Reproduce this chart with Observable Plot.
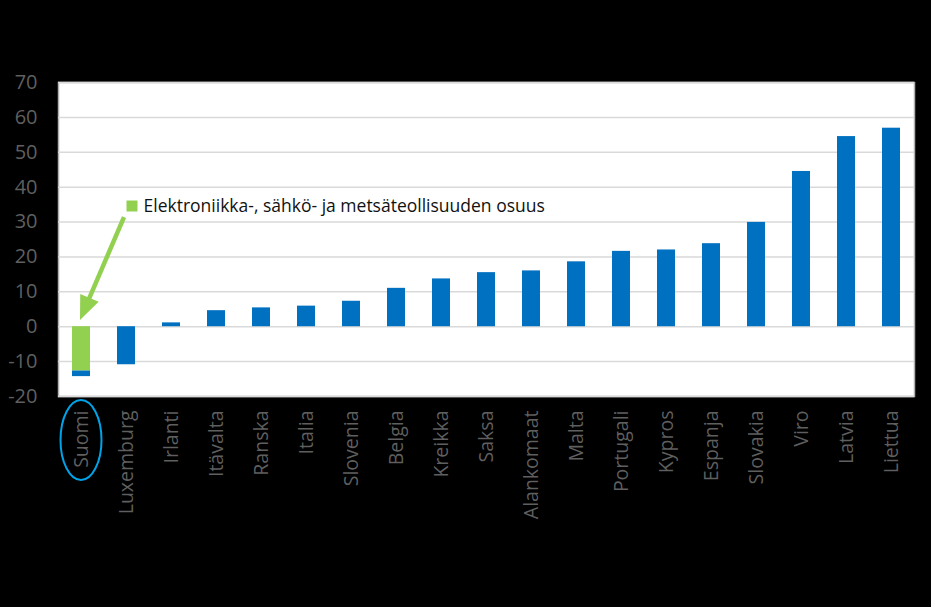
<!DOCTYPE html>
<html>
<head>
<meta charset="utf-8">
<script src="https://cdn.jsdelivr.net/npm/d3@7"></script>
<script src="https://cdn.jsdelivr.net/npm/@observablehq/plot@0.6"></script>
<style>
  html, body { margin: 0; padding: 0; background: #000; }
  #chart svg { display: block; }
</style>
</head>
<body>
<div id="chart"></div>
<script>
const countries = ["Suomi","Luxemburg","Irlanti","Itävalta","Ranska","Italia","Slovenia","Belgia","Kreikka","Saksa","Alankomaat","Malta","Portugali","Kypros","Espanja","Slovakia","Viro","Latvia","Liettua"];
// total change (blue part = total minus the industries' share)
const restValues = [-1.6, -10.9, 1.1, 4.6, 5.4, 5.9, 7.3, 11.0, 13.7, 15.5, 16.0, 18.6, 21.6, 22.0, 23.8, 29.9, 44.5, 54.5, 56.9];
// share of electronics, electrical and forest industries (only Suomi)
const shareValues = [-12.7, 0, 0, 0, 0, 0, 0, 0, 0, 0, 0, 0, 0, 0, 0, 0, 0, 0, 0];
const yTicks = [-20, -10, 0, 10, 20, 30, 40, 50, 60, 70];
const legendLabel = "Elektroniikka-, sähkö- ja metsäteollisuuden osuus";
const parts = ["share", "rest"];
const partColors = ["#92d050", "#0070c0"];
// annotation anchor points in data coordinates
const arrowFrom = {x: "Luxemburg", y: 31.3};
const arrowTo = {x: "Suomi", y: 1.8};
const legendAt = {x: "Luxemburg", y: 34.6};

const rows = [];
countries.forEach((c, i) => {
  if (shareValues[i] !== 0) rows.push({country: c, part: "share", value: shareValues[i]});
  rows.push({country: c, part: "rest", value: restValues[i]});
});

const plot = Plot.plot({
  width: 931,
  height: 607,
  marginLeft: 58,
  marginRight: 17,
  marginTop: 82,
  marginBottom: 211,
  style: {background: "#000", color: "#5f5f5f", fontFamily: "'Open Sans', sans-serif"},
  x: {domain: countries, paddingInner: 0.6, paddingOuter: 0.3, label: null},
  y: {domain: [-20, 70], ticks: yTicks, label: null},
  color: {domain: parts, range: partColors},
  marks: [
    Plot.frame({fill: "white", stroke: "#b0b0b0", strokeWidth: 1.5}),
    Plot.gridY(yTicks, {stroke: "#d9d9d9", strokeOpacity: 1, strokeWidth: 1.5}),
    Plot.barY(rows, Plot.stackY({x: "country", y: "value", fill: "part", order: null})),
    Plot.axisY(yTicks, {tickSize: 0, tickPadding: 21, fontSize: 20, fill: "#5f5f5f", tickFormat: d => String(d)}),
    Plot.axisX({tickSize: 0, tickPadding: 14, tickRotate: -90, fontSize: 19.5, fill: "#5f5f5f"}),
    Plot.dot([legendAt], {x: "x", y: "y", symbol: "square", r: 6.2, fill: "#92d050", dx: 5.5}),
    Plot.text([legendAt], {x: "x", y: "y", text: () => legendLabel, textAnchor: "start", dx: 17, fontSize: 17.5, fill: "#111", fontFamily: "'Open Sans', sans-serif"})
  ]
});

const xs = plot.scale("x");
const ys = plot.scale("y");
const bw = xs.bandwidth;
const svg = d3.select(plot);

// annotation arrow (filled head), positioned with the plot's own scales
const x1 = xs.apply(arrowFrom.x) + bw / 2 - 2, y1 = ys.apply(arrowFrom.y);
const x2 = xs.apply(arrowTo.x) + bw / 2 - 1, y2 = ys.apply(arrowTo.y);
const L = Math.hypot(x2 - x1, y2 - y1);
const ux = (x2 - x1) / L, uy = (y2 - y1) / L;
const headLen = 24, headHalf = 10;
const bx = x2 - ux * headLen, by = y2 - uy * headLen;
svg.append("line")
  .attr("x1", x1).attr("y1", y1).attr("x2", bx + ux * 2).attr("y2", by + uy * 2)
  .attr("stroke", "#92d050").attr("stroke-width", 4.5);
svg.append("polygon")
  .attr("points", [[x2, y2], [bx - uy * headHalf, by + ux * headHalf], [bx + uy * headHalf, by - ux * headHalf]].map(p => p.join(",")).join(" "))
  .attr("fill", "#92d050");

// ellipse around the Suomi tick label
const cx = xs.apply("Suomi") + bw / 2;
svg.append("ellipse")
  .attr("cx", cx).attr("cy", 440).attr("rx", 20.5).attr("ry", 40)
  .attr("fill", "none").attr("stroke", "#00a2e8").attr("stroke-width", 2);

document.getElementById("chart").appendChild(plot);
</script>
</body>
</html>
